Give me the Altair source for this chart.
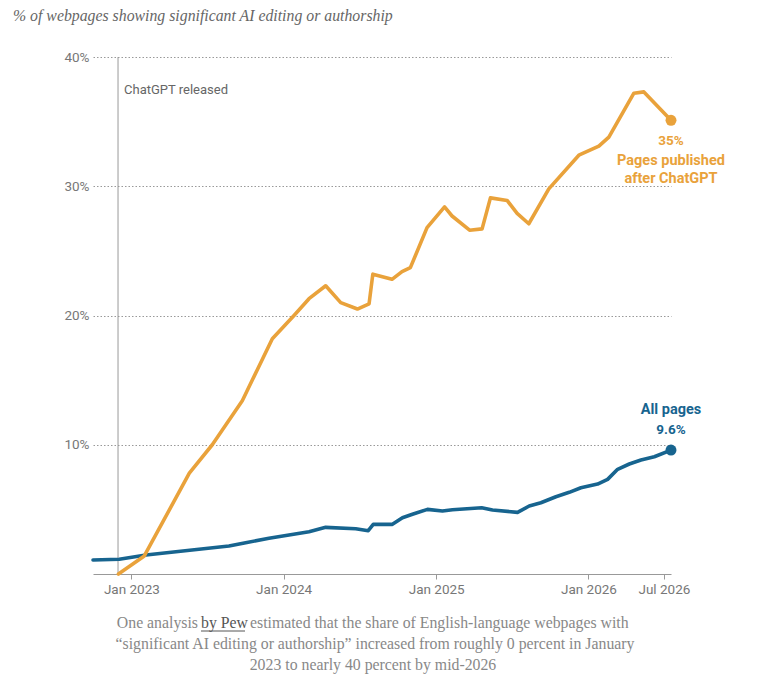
import altair as alt
import pandas as pd

# ---------------- data ----------------
series_names = ["Pages published after ChatGPT", "All pages"]
series_colors = ["#E9A23B", "#17648F"]

after_dates = ["2022-12-01", "2023-02-01", "2023-05-20", "2023-07-14", "2023-09-24",
               "2023-12-05", "2024-01-26", "2024-03-02", "2024-04-11", "2024-05-17",
               "2024-06-26", "2024-07-24", "2024-08-02", "2024-09-17", "2024-10-11",
               "2024-10-31", "2024-12-10", "2025-01-21", "2025-02-08", "2025-03-22",
               "2025-04-21", "2025-05-11", "2025-06-20", "2025-07-14", "2025-08-11",
               "2025-09-28", "2025-12-09", "2026-01-26", "2026-02-19", "2026-04-20",
               "2026-05-14", "2026-07-18"]
after_values = [0.0, 1.4, 7.8, 10.0, 13.4, 18.2, 20.0, 21.3, 22.3, 21.0,
                20.5, 20.9, 23.2, 22.8, 23.4, 23.7, 26.8, 28.4, 27.7, 26.6,
                26.7, 29.1, 28.9, 27.9, 27.1, 29.8, 32.4, 33.1, 33.8, 37.2,
                37.3, 35.1]

all_dates = ["2022-10-01", "2022-12-03", "2023-02-05", "2023-08-23", "2023-10-02",
             "2023-11-27", "2024-03-02", "2024-04-11", "2024-06-22", "2024-07-22",
             "2024-08-03", "2024-09-18", "2024-10-12", "2024-11-05", "2024-12-11",
             "2025-01-16", "2025-02-09", "2025-04-20", "2025-05-16", "2025-07-15",
             "2025-08-12", "2025-09-09", "2025-10-15", "2025-11-16", "2025-12-14",
             "2026-01-23", "2026-02-16", "2026-03-12", "2026-04-09", "2026-05-07",
             "2026-06-08", "2026-07-18"]
all_values = [1.08, 1.14, 1.47, 2.17, 2.42, 2.76, 3.27, 3.61, 3.50, 3.35,
              3.84, 3.84, 4.35, 4.62, 5.00, 4.87, 4.97, 5.12, 4.95, 4.77,
              5.26, 5.51, 5.98, 6.32, 6.67, 6.96, 7.32, 8.10, 8.51, 8.82,
              9.07, 9.59]

end_labels = ["35%", "9.6%"]
release_date = "2022-11-30"
release_label = "ChatGPT released"
y_ticks = [10, 20, 30, 40]

title_text = "% of webpages showing significant AI editing or authorship"
caption_pre = "One analysis"
caption_link = "by Pew"
caption_post = "estimated that the share of English-language webpages with"
caption_line2 = "\u201csignificant AI editing or authorship\u201d increased from roughly 0 percent in January"
caption_line3 = "2023 to nearly 40 percent by mid-2026"

# ---------------- tables ----------------
df = pd.concat([
    pd.DataFrame({"date": pd.to_datetime(after_dates), "value": after_values,
                  "series": series_names[0]}),
    pd.DataFrame({"date": pd.to_datetime(all_dates), "value": all_values,
                  "series": series_names[1]}),
], ignore_index=True)

ends = pd.DataFrame({
    "date": [pd.to_datetime(after_dates[-1]), pd.to_datetime(all_dates[-1])],
    "value": [after_values[-1], all_values[-1]],
    "series": series_names,
    "label": end_labels,
})

release = pd.DataFrame({"date": [pd.to_datetime(release_date)],
                        "value": [0], "value2": [max(y_ticks)],
                        "label": [release_label]})

# ---------------- styling ----------------
W, H = 578, 517
SANS = "Roboto"
SERIF = "Liberation Serif"
AXIS_GRAY = "#999999"
LABEL_GRAY = "#777777"

x_enc = alt.X(
    "date:T",
    scale=alt.Scale(domain=[alt.DateTime(year=2022, month=10, date=1),
                            alt.DateTime(year=2026, month=7, date=18)]),
    axis=alt.Axis(
        values=[alt.DateTime(year=2023, month=1, date=1),
                alt.DateTime(year=2024, month=1, date=1),
                alt.DateTime(year=2025, month=1, date=1),
                alt.DateTime(year=2026, month=1, date=1),
                alt.DateTime(year=2026, month=7, date=1)],
        format="%b %Y", title=None, grid=False,
        domainColor=AXIS_GRAY, domainWidth=1,
        tickColor=AXIS_GRAY, tickSize=5, tickWidth=1,
        labelColor=LABEL_GRAY, labelFont=SANS, labelFontSize=13.5,
        labelPadding=3, labelOverlap=False, labelFlush=False,
    ),
)
y_enc = alt.Y(
    "value:Q",
    scale=alt.Scale(domain=[0, 40], nice=False),
    axis=alt.Axis(
        values=y_ticks, labelExpr="datum.value + '%'", title=None,
        domain=False, ticks=False, tickSize=0, labelPadding=4,
        grid=True, gridColor=AXIS_GRAY, gridDash=[1.5, 2], gridWidth=1,
        labelColor=LABEL_GRAY, labelFont=SANS, labelFontSize=13.5,
    ),
)
color_enc = alt.Color("series:N",
                      scale=alt.Scale(domain=series_names, range=series_colors),
                      legend=None)

base = alt.Chart(df)

rule = alt.Chart(release).mark_rule(color=AXIS_GRAY, strokeWidth=1).encode(
    x=x_enc, y=y_enc, y2="value2:Q")
rule_text = alt.Chart(release).mark_text(
    align="left", baseline="middle", dx=6, font=SANS, fontSize=13,
    color="#666666").encode(x=x_enc, y=alt.value(33), text="label:N")

line_all = base.transform_filter(alt.datum.series == series_names[1]).mark_line(
    strokeWidth=3.6, strokeJoin="round", strokeCap="round").encode(
    x=x_enc, y=y_enc, color=color_enc)
line_after = base.transform_filter(alt.datum.series == series_names[0]).mark_line(
    strokeWidth=3.6, strokeJoin="round", strokeCap="round").encode(
    x=x_enc, y=y_enc, color=color_enc)

dots = alt.Chart(ends).mark_circle(size=120, opacity=1).encode(
    x=x_enc, y=y_enc, color=color_enc)

after_end = ends[ends.series == series_names[0]]
all_end = ends[ends.series == series_names[1]]

txt_kw = dict(align="center", baseline="middle", font=SANS, fontWeight="bold")
after_pct = alt.Chart(after_end).mark_text(dy=21, fontSize=13.5, **txt_kw).encode(
    x=x_enc, y=y_enc, text="label:N", color=color_enc)
after_name = alt.Chart(after_end).mark_text(dy=41, fontSize=14.5, lineHeight=18,
                                            **txt_kw).encode(
    x=x_enc, y=y_enc, color=color_enc,
    text=alt.value(["Pages published", "after ChatGPT"]))
all_name = alt.Chart(all_end).mark_text(dy=-40, fontSize=14.5, **txt_kw).encode(
    x=x_enc, y=y_enc, color=color_enc, text=alt.value(series_names[1]))
all_pct = alt.Chart(all_end).mark_text(dy=-20, fontSize=13.5, **txt_kw).encode(
    x=x_enc, y=y_enc, text="label:N", color=color_enc)


def note(text, x, y, align="left", color="#888888", font=SERIF, size=15.8,
         style="normal"):
    return alt.Chart(pd.DataFrame({"t": [text]})).mark_text(
        align=align, baseline="middle", font=font, fontSize=size,
        fontStyle=style, color=color).encode(
        x=alt.value(x), y=alt.value(y), text="t:N")


title = note(title_text, -80, -41, color="#666666", size=15.8, style="italic")
cap1a = note(caption_pre, 105, 566, align="right")
cap1b = note(caption_link, 108, 566, color="#555555")
cap1c = note(caption_post, 157, 566)
underline = alt.Chart(pd.DataFrame({"t": [caption_link]})).mark_rule(
    color="#555555", strokeWidth=1).encode(
    x=alt.value(108), x2=alt.value(152), y=alt.value(574))
cap2 = note(caption_line2, 282, 587, align="center")
cap3 = note(caption_line3, 280, 608, align="center")

chart = alt.layer(
    rule, rule_text, line_all, line_after, dots,
    after_pct, after_name, all_name, all_pct,
    title, cap1a, cap1b, cap1c, underline, cap2, cap3,
).properties(
    width=W, height=H,
    padding={"left": 85, "top": 49, "right": 70, "bottom": 100},
    autosize=alt.AutoSizeParams(type="none"),
    background="white",
).configure_view(strokeWidth=0)

chart.save("out.html", embed_options={"renderer": "svg", "actions": False})
